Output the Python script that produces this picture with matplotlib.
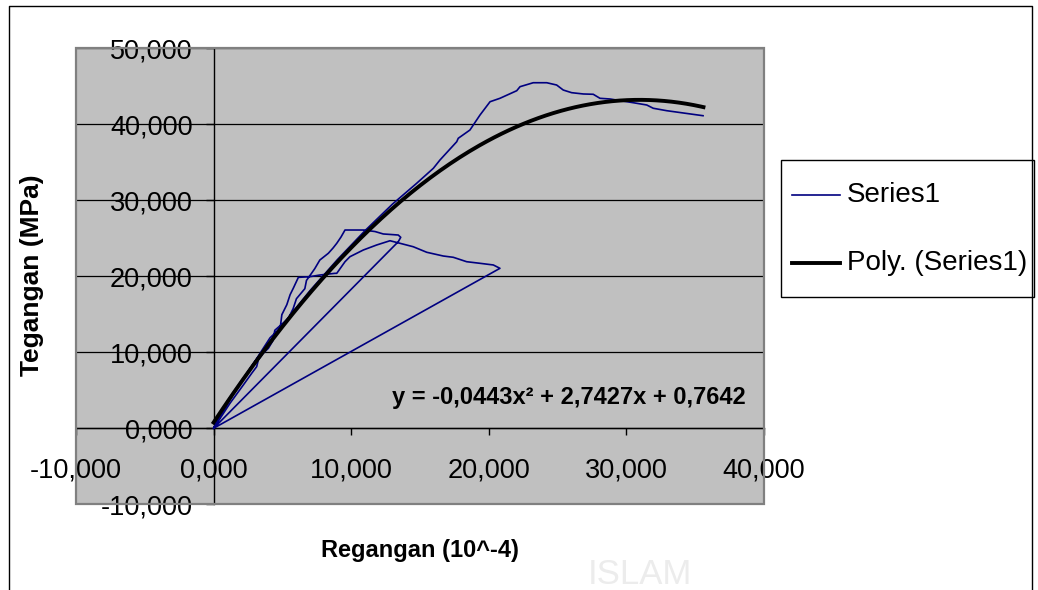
import numpy as np
import matplotlib
matplotlib.use("Agg")
import matplotlib.pyplot as plt
from matplotlib.lines import Line2D
from matplotlib.patches import Rectangle

plt.rcParams['font.family'] = ['Liberation Sans', 'DejaVu Sans']

# Series1: three load cycles (strain in 10^-4 x 1000 as displayed, stress MPa)
cycle1_x = [0, 1.19, 2.16, 2.77, 3.13, 3.25, 3.61, 3.98, 4.30, 4.45, 5.42, 5.78, 6.02,
            6.63, 6.75, 6.87, 7.35, 7.72, 8.34, 8.68, 8.95, 9.26, 9.55, 10.42, 10.88,
            11.73, 12.33, 12.89, 13.42, 13.60, 13.42, 0]
cycle1_y = [0, 3.29, 5.70, 7.24, 8.11, 8.99, 9.87, 10.53, 11.50, 12.90, 14.43, 15.74, 17.05,
            18.37, 19.46, 19.76, 21.00, 22.14, 23.03, 23.72, 24.34, 25.17, 26.09, 26.09, 26.09,
            25.89, 25.57, 25.50, 25.43, 25.13, 24.55, 0]

cycle2_x = [0.8, 1.6, 2.4, 3.0, 3.6, 4.1, 4.84, 4.96, 5.32, 5.56, 5.80, 6.16, 7.0, 7.73,
            8.82, 8.95, 9.55, 9.91, 10.88, 11.85, 12.82, 13.55, 14.51, 15.49, 16.69, 17.42,
            18.39, 19.36, 20.33, 20.81, 0]
cycle2_y = [2.6, 5.0, 7.2, 8.8, 10.5, 11.9, 13.2, 14.95, 16.26, 17.58, 18.46, 19.86, 19.95,
            20.17, 20.39, 20.39, 21.92, 22.58, 23.46, 24.12, 24.68, 24.34, 23.89, 23.16,
            22.67, 22.50, 21.92, 21.71, 21.49, 21.05, 0]

cycle3_x = [1, 3, 5, 7, 9, 11, 13, 14.76, 15.97, 16.45, 17.67, 17.78, 18.63, 19.36, 20.09,
            20.81, 22.03, 22.27, 23.23, 24.21, 24.93, 25.41, 26.02, 26.87, 27.59, 28.08,
            28.81, 30.50, 31.48, 31.95, 32.93, 35.57]
cycle3_y = [3.6, 8.8, 13.6, 18.1, 22.2, 26.0, 29.5, 32.24, 34.21, 35.30, 37.71, 38.16, 39.25,
            41.22, 42.97, 43.42, 44.42, 44.95, 45.47, 45.47, 45.17, 44.51, 44.16, 43.99,
            43.95, 43.42, 43.33, 42.84, 42.54, 42.11, 41.79, 41.13]

series_x = cycle1_x + cycle2_x + cycle3_x
series_y = cycle1_y + cycle2_y + cycle3_y

# polynomial trendline shown on the chart
poly_coef = [-0.0443, 2.7427, 0.7642]
trend_x_max = 35.6

x_ticks = [-10, 0, 10, 20, 30, 40]
y_ticks = [-10, 0, 10, 20, 30, 40, 50]
legend_labels = ['Series1', 'Poly. (Series1)']


def fmt(v):
    return f"{v:.3f}".replace('.', ',')


W, H = 1038, 590
fig = plt.figure(figsize=(W / 100, H / 100), dpi=100)
ax = fig.add_axes([76 / W, (H - 504.3) / H, 688 / W, 456.0 / H])
ax.set_facecolor('#c0c0c0')
ax.set_xlim(-10, 40)
ax.set_ylim(-10, 50)

ax.set_xticks(x_ticks)
ax.set_yticks(y_ticks)
ax.set_xticklabels([fmt(v) for v in x_ticks])
ax.set_yticklabels([fmt(v) for v in y_ticks])
ax.yaxis.grid(True, color='black', lw=0.9)
ax.set_axisbelow(True)

for s in ['top', 'right']:
    ax.spines[s].set_visible(False)
ax.spines['left'].set_position(('data', 0))
ax.spines['bottom'].set_position(('data', 0))
for s in ['left', 'bottom']:
    ax.spines[s].set_color('black')
    ax.spines[s].set_linewidth(1.0)
    ax.spines[s].set_zorder(1.5)

ax.tick_params(axis='x', direction='out', length=5, width=1, pad=16, labelsize=19.5)
ax.tick_params(axis='y', direction='out', length=6, width=1, pad=9, labelsize=19.5)

# plot area border
ax.add_patch(Rectangle((0, 0), 1, 1, transform=ax.transAxes, fill=False,
                       edgecolor='#808080', lw=1.6, zorder=5, clip_on=False))

ax.plot(series_x, series_y, color='#000080', lw=1.2, zorder=3)
tx = np.linspace(0, trend_x_max, 200)
ax.plot(tx, np.polyval(poly_coef, tx), color='black', lw=2.8, zorder=4)

ax.text(25.8, 4.1, 'y = -0,0443x² + 2,7427x + 0,7642', fontsize=17,
        fontweight='bold', ha='center', va='center')

# legend box drawn in figure pixels, Excel style
def px(x, y):
    return x / W, 1 - y / H

fig.add_artist(Rectangle(px(781, 297), 253 / W, 137 / H, transform=fig.transFigure,
                         facecolor='white', edgecolor='black', lw=1.0))
for label, color, lw, yy in [(legend_labels[0], '#000080', 1.2, 195),
                             (legend_labels[1], 'black', 2.8, 263)]:
    x0, y0 = px(792, yy)
    x1, _ = px(840, yy)
    fig.add_artist(Line2D([x0, x1], [y0, y0], color=color, lw=lw,
                          transform=fig.transFigure))
    fig.text(*px(847, yy), label, fontsize=20, ha='left', va='center')

fig.text(32 / W, 1 - 275 / H, 'Tegangan (MPa)', rotation=90, fontsize=19,
         fontweight='bold', ha='center', va='center')
fig.text(420 / W, 1 - 551 / H, 'Regangan (10^-4)', fontsize=17,
         fontweight='bold', ha='center', va='center')

# faint watermark
fig.text(640 / W, 1 - 574 / H, 'ISLAM', fontsize=25, color='#ececec',
         ha='center', va='center', zorder=0)

# outer chart border
fig.add_artist(Line2D([9 / W, 9 / W, 1032 / W, 1032 / W], [0, 1 - 6 / H, 1 - 6 / H, 0],
                      color='black', lw=1.0, transform=fig.transFigure))

fig.savefig('out.png', dpi=100)
